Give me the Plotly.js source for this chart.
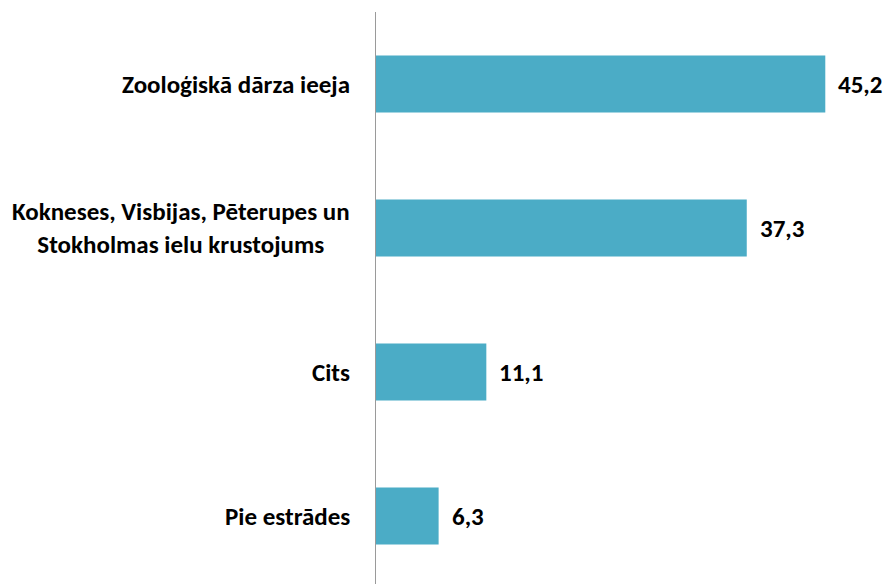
<!DOCTYPE html>
<html>
<head>
<meta charset="utf-8">
<script src="https://cdn.plot.ly/plotly-3.0.1.min.js"></script>
<style>html,body{margin:0;padding:0;background:#fff;}#chart{width:891px;height:584px;}</style>
</head>
<body>
<div id="chart"></div>
<script>
const categories = ["Zooloģiskā dārza ieeja", "Kokneses, Visbijas, Pēterupes un<br>Stokholmas ielu krustojums", "Cits", "Pie estrādes"];
const values = [45.2, 37.3, 11.1, 6.3];
const valueLabels = ["45,2", "37,3", "11,1", "6,3"];

const FONT = "Carlito, Lato, 'Liberation Sans', sans-serif";
const SIZE = 25;
const ids = categories.map((c, i) => "c" + i);

const trace = {
  type: "bar",
  orientation: "h",
  x: values,
  y: ids,
  marker: {color: "#4BACC6"},
  width: 0.396,
  hoverinfo: "none"
};

const annotations = [];
categories.forEach((c, i) => {
  annotations.push({
    xref: "paper", yref: "y", x: 0, y: ids[i],
    xanchor: "right", yanchor: "middle", xshift: -24,
    text: c, showarrow: false, align: "center",
    font: {family: FONT, size: SIZE, color: "#000", weight: "bold"}
  });
  annotations.push({
    xref: "x", yref: "y", x: values[i], y: ids[i],
    xanchor: "left", yanchor: "middle", xshift: 11,
    text: valueLabels[i], showarrow: false,
    font: {family: FONT, size: SIZE, color: "#000", weight: "bold"}
  });
});

const layout = {
  width: 891, height: 584,
  margin: {l: 376, r: 17.5, t: 12, b: 0},
  paper_bgcolor: "#fff", plot_bgcolor: "#fff",
  showlegend: false,
  xaxis: {range: [0, 50], visible: false, fixedrange: true},
  yaxis: {
    type: "category", range: [3.472, -0.5],
    showticklabels: false, showgrid: false, zeroline: false,
    showline: true, linecolor: "#9a9a9a", linewidth: 1.3, ticks: ""
  },
  annotations: annotations
};

Plotly.newPlot("chart", [trace], layout, {staticPlot: true});
</script>
</body>
</html>
